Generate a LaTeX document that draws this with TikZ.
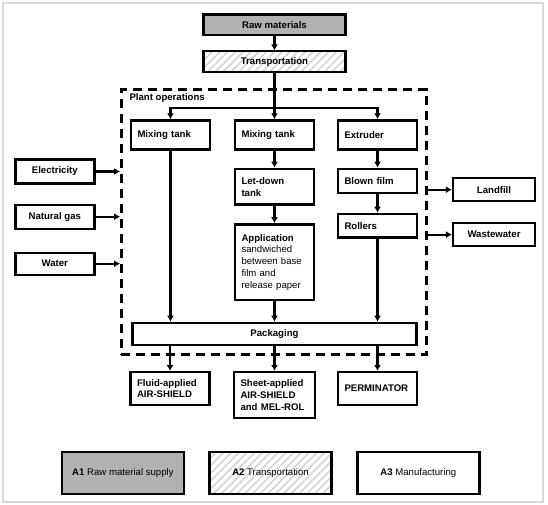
\documentclass[tikz,border=0pt]{standalone}
\usepackage{fontspec}
\setmainfont{Liberation Sans}
\usetikzlibrary{arrows.meta,positioning,patterns.meta}

\begin{document}
\begin{tikzpicture}
        [
            x=1pt,
            y=-1pt,
            font=\fontsize{9.6}{11.8}\selectfont\bfseries,
            line/.style = {
                draw,
                line width=2.2pt,
                -{Latex[length=6pt,width=7pt]}
            },
            box/.style = {
                rectangle,
                draw,
                line width=2.4pt,
                align=center,
                inner sep=2pt
            },
            unit/.style = {
                box,
                text width=66pt,
                align=left,
                inner xsep=6.5pt
            },
            supply/.style = {
                box,
                fill=gray!60
            },
            haul/.style = {
                box,
                pattern={Lines[angle=45,distance=5.5pt,line width=1.5pt]},
                pattern color=gray!35
            },
            boundary/.style = {
                rectangle,
                draw,
                line width=2.5pt,
                dash pattern=on 9pt off 6pt,
                inner sep=0pt
            },
            legend/.style = {
                minimum width=122pt,
                minimum height=42pt,
                font=\fontsize{9.6}{11.8}\selectfont
            }
        ]

        \useasboundingbox (0,0) rectangle (548,505);
        \draw[gray!30, line width=1.2pt] (3,3) rectangle (543,502);

        \node[supply, minimum width=142pt, minimum height=20.6pt] (raw) at (274.5,25) {Raw materials};
        \node[haul, minimum width=142pt, minimum height=21pt, below=14pt of raw] (transp) {Transportation};

        \node[boundary, minimum width=305.4pt, minimum height=265pt] (plant) at (274,222.2) {};
        \node[anchor=west] (plantlabel) at (126,97.7) {Plant operations};

        \node[unit, minimum height=29pt] (mix1) at (170.5,135) {Mixing tank};
        \node[unit, minimum height=29pt] (mix2) at (274.5,135) {Mixing tank};
        \node[unit, minimum height=29pt] (extruder) at (377.5,135) {Extruder};
        \node[unit, minimum height=35.6pt, below=17pt of mix2] (letdown) {Let-down\\tank};
        \node[unit, minimum height=75.6pt, below=17.5pt of letdown] (apply) {Application\\\mdseries sandwiched\\\mdseries between base\\\mdseries film and\\\mdseries release paper};
        \node[unit, minimum height=24pt, below=17pt of extruder] (blown) {Blown film};
        \node[unit, minimum height=23.6pt, below=18.5pt of blown] (rollers) {Rollers};
        \node[box, minimum width=284pt, minimum height=22.2pt] (pack) at (274.5,334) {Packaging};

        \node[unit, minimum height=32.6pt] (fluid) at (170,388.5) {Fluid-applied\\AIR-SHIELD};
        \node[unit, text width=68pt, minimum height=46pt] (sheet) at (274.5,395.2) {Sheet-applied\\AIR-SHIELD\\and MEL-ROL};
        \node[unit, minimum height=32.6pt] (perm) at (377.5,388.5) {PERMINATOR};

        \node[box, minimum width=79pt, minimum height=24pt] (elec) at (54.8,171.5) {Electricity};
        \node[box, minimum width=79pt, minimum height=24pt] (gas) at (54.8,216.7) {Natural gas};
        \node[box, minimum width=79pt, minimum height=22pt] (water) at (54.8,263.7) {Water};
        \node[box, minimum width=81.8pt, minimum height=23pt] (landfill) at (494,189.7) {Landfill};
        \node[box, minimum width=81.8pt, minimum height=23pt] (waste) at (494,234.6) {Wastewater};

        \node[supply, legend] (legA1) at (122.9,472.9) {\textbf{A1} Raw material supply};
        \node[haul, legend] (legA2) at (270.5,472.9) {\textbf{A2} Transportation};
        \node[box, legend] (legA3) at (418.3,472.9) {\textbf{A3} Manufacturing};

        \coordinate (split) at (274.5,108.3);

        \path[line] (raw) -- (transp);
        \path[line] (transp) -- (mix2);
        \path[line] (split) -| (mix1);
        \path[line] (split) -| (extruder);
        \path[line] (mix2) -- (letdown);
        \path[line] (letdown) -- (apply);
        \path[line] (extruder) -- (blown);
        \path[line] (blown) -- (rollers);
        \path[line] (mix1) -- (mix1 |- pack.north);
        \path[line] (apply) -- (pack);
        \path[line] (rollers) -- (rollers |- pack.north);
        \path[line] (pack.south -| fluid) -- (fluid);
        \path[line] (pack) -- (sheet);
        \path[line] (pack.south -| perm) -- (perm);
        \path[line] (elec) -- (elec -| plant.west);
        \path[line] (gas) -- (gas -| plant.west);
        \path[line] (water) -- (water -| plant.west);
        \path[line] (landfill -| plant.east) -- (landfill);
        \path[line] (waste -| plant.east) -- (waste);
    \end{tikzpicture}
\end{document}
